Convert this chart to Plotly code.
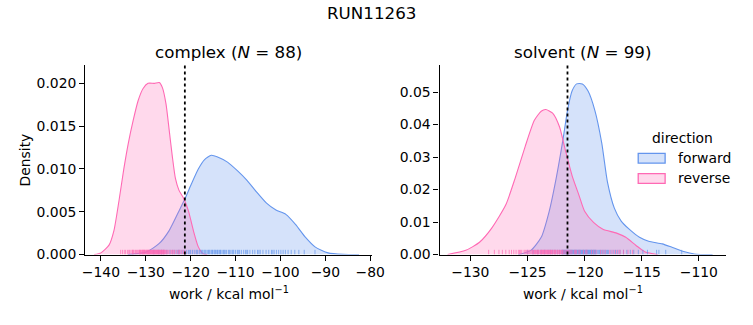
import plotly.graph_objects as go

# ---------------- data ----------------
# KDE curves: complex phase
complex_rev_x = [-141.5, -140.0, -138.2, -137.1, -136.0, -134.9, -133.9, -132.8, -131.7, -130.6,
                 -129.5, -128.1, -127.0, -126.3, -125.5, -124.8, -124.1, -123.4, -122.6, -121.6,
                 -120.5, -119.4, -118.3, -117.2, -116.3]
complex_rev_d = [0.0, 0.0002, 0.0011, 0.0028, 0.0062, 0.0100, 0.0130, 0.0157, 0.0180, 0.0194,
                 0.0200, 0.0200, 0.0201, 0.0195, 0.0176, 0.0146, 0.0115, 0.0089, 0.0075, 0.0066,
                 0.0051, 0.0028, 0.0009, 0.0001, 0.0]
complex_fwd_x = [-134.0, -129.9, -127.0, -124.8, -122.6, -121.2, -119.8, -118.3, -116.9, -115.4,
                 -114.0, -111.8, -109.6, -107.5, -105.3, -103.1, -101.0, -98.8, -96.6, -94.4,
                 -92.3, -89.4, -86.0, -82.5]
complex_fwd_d = [0.0, 0.0003, 0.0013, 0.0028, 0.0051, 0.0066, 0.0083, 0.0100, 0.0111, 0.0116,
                 0.0114, 0.0108, 0.0098, 0.0087, 0.0073, 0.0060, 0.0052, 0.0047, 0.0035, 0.0020,
                 0.0009, 0.0002, 0.00002, 0.0]

# KDE curves: solvent phase
solvent_rev_x = [-132.0, -130.4, -129.2, -128.1, -126.9, -126.1, -125.2, -124.4, -123.8, -123.4,
                 -122.8, -122.2, -121.7, -121.1, -120.5, -120.0, -119.2, -118.4, -117.2, -116.4,
                 -115.5, -114.7, -113.6]
solvent_rev_d = [0.0, 0.0013, 0.0038, 0.0083, 0.0153, 0.0233, 0.0333, 0.0413, 0.0441, 0.0446,
                 0.0435, 0.0393, 0.0323, 0.0243, 0.0183, 0.0133, 0.0098, 0.0078, 0.0066, 0.0053,
                 0.0028, 0.0008, 0.0]
solvent_fwd_x = [-125.8, -124.7, -123.8, -123.1, -122.5, -121.9, -121.5, -121.1, -120.7, -120.2,
                 -119.7, -119.1, -118.5, -118.0, -117.4, -116.8, -116.1, -115.2, -114.4, -113.2,
                 -112.4, -111.5, -110.4, -108.8]
solvent_fwd_d = [0.0, 0.0013, 0.0053, 0.0133, 0.0233, 0.0353, 0.0443, 0.0503, 0.0525, 0.0525,
                 0.0503, 0.0443, 0.0343, 0.0223, 0.0143, 0.0103, 0.0078, 0.0053, 0.0041, 0.0033,
                 0.0023, 0.0011, 0.0002, 0.0]

# individual work values (rug)
complex_rev_work = [-135.6, -135.2, -134.8, -134.5, -134.1, -133.8, -133.6, -133.3, -133.0, -132.8,
                    -132.6, -132.3, -132.1, -131.9, -131.7, -131.5, -131.3, -131.1, -130.9, -130.8,
                    -130.6, -130.4, -130.3, -130.1, -129.9, -129.8, -129.6, -129.5, -129.3, -129.2,
                    -129.0, -128.9, -128.7, -128.6, -128.4, -128.3, -128.1, -128.0, -127.8, -127.7,
                    -127.5, -127.4, -127.2, -127.1, -126.9, -126.8, -126.7, -126.5, -126.4, -126.3,
                    -126.1, -126.0, -125.8, -125.6, -125.4, -125.2, -124.9, -124.6, -124.3, -124.0,
                    -123.6, -123.2, -122.8, -122.4, -122.0, -121.6, -121.2, -131.4, -130.7, -130.2,
                    -129.7, -129.1, -128.8, -128.2, -127.9, -127.3, -126.6, -132.9, -131.2, -130.5,
                    -129.4, -128.5, -127.6, -127.0, -126.2, -125.9, -123.9, -122.6]
complex_fwd_work = [-128.2, -127.1, -126.0, -125.3, -124.6, -124.0, -123.5, -123.0, -122.4, -121.9,
                    -121.4, -120.9, -120.5, -120.0, -119.6, -119.2, -118.8, -118.4, -118.0, -117.7,
                    -117.3, -117.0, -116.6, -116.3, -116.0, -115.7, -115.4, -115.1, -114.8, -114.5,
                    -114.2, -113.9, -113.6, -113.3, -113.0, -112.7, -112.3, -112.0, -111.6, -111.2,
                    -110.8, -110.4, -110.0, -109.6, -109.1, -108.7, -108.2, -107.8, -107.3, -106.8,
                    -106.2, -105.7, -105.1, -104.5, -103.9, -103.2, -102.6, -102.0, -101.4, -100.9,
                    -100.4, -99.9, -99.4, -98.9, -98.3, -97.6, -96.8, -95.9, -94.7, -92.3,
                    -126.5, -122.7, -120.2, -118.6, -117.5, -116.8, -115.9, -115.2, -114.6, -114.0,
                    -113.4, -112.5, -111.4, -110.6, -109.4, -107.5, -104.8, -101.7]
solvent_rev_work = [-128.4, -127.9, -127.5, -127.2, -126.9, -126.6, -126.4, -126.2, -126.0, -125.8,
                    -125.6, -125.5, -125.3, -125.2, -125.0, -124.9, -124.8, -124.6, -124.5, -124.4,
                    -124.3, -124.2, -124.1, -124.0, -123.9, -123.8, -123.7, -123.6, -123.5, -123.45,
                    -123.4, -123.3, -123.2, -123.1, -123.0, -122.9, -122.8, -122.7, -122.6, -122.5,
                    -122.4, -122.3, -122.2, -122.1, -122.0, -121.9, -121.8, -121.6, -121.5, -121.3,
                    -121.1, -120.9, -120.7, -120.4, -120.1, -119.8, -119.4, -119.0, -118.6, -118.2,
                    -117.8, -117.4, -117.0, -116.6, -116.2, -115.8, -125.7, -125.1, -124.7, -124.35,
                    -124.05, -123.85, -123.65, -123.55, -123.35, -123.25, -123.15, -123.05, -122.95, -122.85,
                    -122.65, -122.55, -122.35, -122.15, -121.95, -121.7, -121.4, -121.2, -120.8, -120.5,
                    -119.9, -119.2, -118.4, -117.6, -117.2, -116.9, -124.55, -124.15, -123.75]
solvent_fwd_work = [-125.0, -124.5, -124.1, -123.8, -123.5, -123.2, -123.0, -122.8, -122.6, -122.4,
                    -122.2, -122.0, -121.9, -121.8, -121.7, -121.6, -121.5, -121.4, -121.3, -121.2,
                    -121.1, -121.0, -120.9, -120.85, -120.8, -120.75, -120.7, -120.65, -120.6, -120.55,
                    -120.5, -120.45, -120.4, -120.35, -120.3, -120.25, -120.2, -120.15, -120.1, -120.05,
                    -120.0, -119.9, -119.8, -119.7, -119.6, -119.5, -119.4, -119.3, -119.2, -119.1,
                    -119.0, -118.9, -118.8, -118.7, -118.6, -118.5, -118.4, -118.3, -118.2, -118.1,
                    -118.0, -117.9, -117.7, -117.5, -117.3, -117.1, -116.9, -116.6, -116.3, -116.0,
                    -115.7, -115.3, -114.9, -114.5, -113.7, -113.5, -112.9, -111.5, -121.95, -121.85,
                    -121.75, -121.65, -121.55, -121.45, -121.35, -121.25, -121.15, -121.05, -120.95, -119.95,
                    -119.85, -119.75, -119.65, -119.55, -119.45, -119.35, -119.25, -119.15, -119.05]

complex_estimate = -121.3
solvent_estimate = -121.5

directions = ["forward", "reverse"]
legend_title = "direction"
panel_titles = ["complex (<i>N</i> = 88)", "solvent (<i>N</i> = 99)"]
suptitle = "RUN11263"
xlabel = "work / kcal mol<sup>−1</sup>"
ylabel = "Density"

# ---------------- styling ----------------
W, H = 753, 325
FWD = "#6495ED"
REV = "#FF69B4"
FWD_FILL = "rgba(100,149,237,0.27)"
REV_FILL = "rgba(255,105,180,0.25)"
FWD_RUG = "rgba(100,149,237,0.7)"
REV_RUG = "rgba(255,105,180,0.7)"
FONT = "DejaVu Sans"

dom_x1 = [84 / W, 377 / W]
dom_x2 = [446 / W, 739 / W]
dom_y = [1 - 261 / H, 1 - 67 / H]

ranges_x = [[-143.5, -79.6], [-132.7, -107.6]]
ranges_y = [[0, 0.0221], [0, 0.0582]]

fig = go.Figure()


def rug(values, ymax, color, xa, ya):
    xs, ys = [], []
    h = ymax * 0.025
    for v in values:
        xs += [v, v, None]
        ys += [0, h, None]
    return go.Scatter(x=xs, y=ys, mode="lines", line=dict(color=color, width=1),
                      showlegend=False, hoverinfo="skip", xaxis=xa, yaxis=ya)


panels = [
    (complex_fwd_x, complex_fwd_d, complex_rev_x, complex_rev_d, complex_fwd_work, complex_rev_work, "x", "y"),
    (solvent_fwd_x, solvent_fwd_d, solvent_rev_x, solvent_rev_d, solvent_fwd_work, solvent_rev_work, "x2", "y2"),
]
for i, (fx, fd, rx, rd, fw, rw, xa, ya) in enumerate(panels):
    fig.add_trace(go.Scatter(x=fx, y=fd, mode="lines", line=dict(color=FWD, width=1.1, shape="spline", smoothing=0.6),
                             fill="tozeroy", fillcolor=FWD_FILL, name=directions[0],
                             showlegend=False, xaxis=xa, yaxis=ya))
    fig.add_trace(go.Scatter(x=rx, y=rd, mode="lines", line=dict(color=REV, width=1.1, shape="spline", smoothing=0.6),
                             fill="tozeroy", fillcolor=REV_FILL, name=directions[1],
                             showlegend=False, xaxis=xa, yaxis=ya))
    fig.add_trace(rug(fw, ranges_y[i][1], FWD_RUG, xa, ya))
    fig.add_trace(rug(rw, ranges_y[i][1], REV_RUG, xa, ya))

for xref, yref, est in (("x", "y domain", complex_estimate), ("x2", "y2 domain", solvent_estimate)):
    fig.add_shape(type="line", x0=est, x1=est, y0=0, y1=1, xref=xref, yref=yref,
                  line=dict(color="black", width=1.8, dash="dot"))

axis_common = dict(showline=True, linecolor="black", linewidth=1.1, ticks="outside", ticklen=5,
                   tickwidth=1.1, tickcolor="black", showgrid=False, zeroline=False,
                   tickfont=dict(family=FONT, size=13.9, color="black"))

fig.update_layout(
    width=W, height=H, margin=dict(l=0, r=0, t=0, b=0),
    paper_bgcolor="white", plot_bgcolor="white",
    font=dict(family=FONT, color="black", size=13.9),
    xaxis=dict(domain=dom_x1, range=ranges_x[0], tickmode="array",
               tickvals=[-140, -130, -120, -110, -100, -90, -80], anchor="y", **axis_common),
    yaxis=dict(domain=dom_y, range=ranges_y[0], tickmode="array",
               tickvals=[0, 0.005, 0.01, 0.015, 0.02], tickformat=".3f", anchor="x", **axis_common),
    xaxis2=dict(domain=dom_x2, range=ranges_x[1], tickmode="array",
                tickvals=[-130, -125, -120, -115, -110], anchor="y2", **axis_common),
    yaxis2=dict(domain=dom_y, range=ranges_y[1], tickmode="array",
                tickvals=[0, 0.01, 0.02, 0.03, 0.04, 0.05], tickformat=".2f", anchor="x2", **axis_common),
    showlegend=False,
)

# legend drawn as patches + text (matplotlib style)
leg_rows = [(directions[0], FWD, FWD_FILL, 162.3), (directions[1], REV, REV_FILL, 183)]
for name, edge, fill, yc in leg_rows:
    fig.add_shape(type="rect", xref="paper", yref="paper",
                  x0=649 / W, x1=676.5 / W, y0=1 - (yc + 5) / H, y1=1 - (yc - 5) / H,
                  line=dict(color=edge, width=1.3), fillcolor=fill)
    fig.add_annotation(text=name, x=688 / W, y=1 - yc / H, xanchor="left",
                       font=dict(family=FONT, color="black", size=13.9))

fig.add_annotation(text=legend_title, x=694.5 / W, y=1 - 141 / H, xanchor="center",
                   font=dict(family=FONT, color="black", size=13.9))

ann = [
    dict(text=suptitle, x=0.5, y=1 - 13 / H, size=16.7, angle=0),
    dict(text=panel_titles[0], x=(84 + 377) / 2 / W, y=1 - 53 / H, size=16.7, angle=0),
    dict(text=panel_titles[1], x=(446 + 739) / 2 / W, y=1 - 53 / H, size=16.7, angle=0),
    dict(text=xlabel, x=(84 + 377) / 2 / W, y=1 - 300 / H, size=13.9, angle=0),
    dict(text=xlabel, x=(446 + 739) / 2 / W, y=1 - 300 / H, size=13.9, angle=0),
    dict(text=ylabel, x=22 / W, y=1 - 164 / H, size=13.9, angle=-90),
]
for a in ann:
    fig.add_annotation(text=a["text"], x=a["x"], y=a["y"], textangle=a["angle"], xanchor="center",
                       font=dict(family=FONT, color="black", size=a["size"]))

fig.update_annotations(xref="paper", yref="paper", showarrow=False, yanchor="middle")

fig.write_html("out.html", post_script="document.body.style.margin='0';document.body.style.overflow='hidden';")
